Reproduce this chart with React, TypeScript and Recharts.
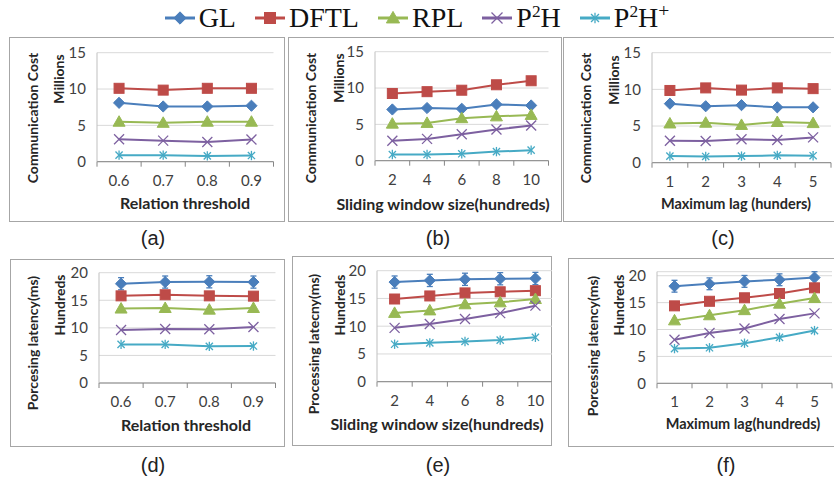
import React from 'react';
import { LineChart, Line, XAxis, YAxis, CartesianGrid, ErrorBar } from 'recharts';

const seriesNames = ['GL', 'DFTL', 'RPL', 'P2H', 'P2H+'];
const seriesColors = ['#4a7ebb', '#be4b48', '#98b954', '#7d60a0', '#46aac5'];
const seriesMarkers = ['diamond', 'square', 'triangle', 'cross', 'star'];

const thresholds = ['0.6', '0.7', '0.8', '0.9'];
const windowSizes = ['2', '4', '6', '8', '10'];
const maxLags = ['1', '2', '3', '4', '5'];

const costTicks = [0, 5, 10, 15];
const latencyTicks = [0, 5, 10, 15, 20];

// (a) communication cost vs relation threshold (millions)
const costThrGL = [8.1, 7.6, 7.6, 7.7];
const costThrDFTL = [10.1, 9.85, 10.1, 10.1];
const costThrRPL = [5.5, 5.35, 5.5, 5.5];
const costThrP2H = [3.1, 2.9, 2.7, 3.05];
const costThrP2Hp = [0.9, 0.9, 0.8, 0.85];

// (b) communication cost vs sliding window size
const costWinGL = [7.05, 7.25, 7.15, 7.75, 7.6];
const costWinDFTL = [9.25, 9.5, 9.7, 10.45, 11.0];
const costWinRPL = [5.1, 5.2, 5.85, 6.1, 6.3];
const costWinP2H = [2.75, 3.0, 3.65, 4.3, 4.85];
const costWinP2Hp = [0.85, 0.85, 0.95, 1.25, 1.45];

// (c) communication cost vs maximum lag
const costLagGL = [8.05, 7.7, 7.85, 7.55, 7.55];
const costLagDFTL = [9.85, 10.2, 9.9, 10.2, 10.1];
const costLagRPL = [5.35, 5.45, 5.15, 5.55, 5.4];
const costLagP2H = [3.0, 2.95, 3.2, 3.1, 3.45];
const costLagP2Hp = [0.9, 0.85, 0.9, 1.0, 0.95];

// (d) processing latency vs relation threshold (hundreds ms)
const latThrGL = [18.0, 18.3, 18.35, 18.3];
const latThrDFTL = [15.8, 16.0, 15.8, 15.75];
const latThrRPL = [13.5, 13.6, 13.3, 13.6];
const latThrP2H = [9.6, 9.8, 9.75, 10.15];
const latThrP2Hp = [7.0, 7.0, 6.65, 6.7];
const latThrGLErr = [1.1, 1.1, 1.1, 1.1];

// (e) processing latency vs sliding window size
const latWinGL = [17.95, 18.25, 18.45, 18.55, 18.6];
const latWinDFTL = [14.9, 15.45, 16.0, 16.2, 16.4];
const latWinRPL = [12.4, 12.85, 13.95, 14.3, 14.9];
const latWinP2H = [9.7, 10.4, 11.3, 12.35, 13.7];
const latWinP2Hp = [6.75, 7.0, 7.25, 7.5, 8.0];
const latWinGLErr = [1.1, 1.1, 1.1, 1.1, 1.1];

// (f) processing latency vs maximum lag
const latLagGL = [18.05, 18.5, 18.95, 19.25, 19.65];
const latLagDFTL = [14.4, 15.25, 15.9, 16.7, 17.75];
const latLagRPL = [11.7, 12.65, 13.6, 14.8, 15.85];
const latLagP2H = [8.1, 9.35, 10.2, 11.95, 13.0];
const latLagP2Hp = [6.45, 6.6, 7.45, 8.55, 9.8];
const latLagGLErr = [1.1, 1.1, 1.1, 1.1, 1.1];

const sans = 'Lato, "Open Sans", sans-serif';

function Marker({ kind, cx, cy, color, s = 1 }: any) {
  if (cx == null || cy == null) return null;
  if (kind === 'diamond') {
    const r = 5.6 * s;
    return <polygon points={`${cx},${cy - r} ${cx + r},${cy} ${cx},${cy + r} ${cx - r},${cy}`} fill={color} stroke={color} />;
  }
  if (kind === 'square') {
    const h = 5 * s;
    return <rect x={cx - h} y={cy - h} width={2 * h} height={2 * h} fill={color} stroke={color} />;
  }
  if (kind === 'triangle') {
    const r = 6 * s;
    return <polygon points={`${cx},${cy - r} ${cx + r},${cy + r * 0.75} ${cx - r},${cy + r * 0.75}`} fill={color} stroke={color} />;
  }
  if (kind === 'cross') {
    const r = 5 * s;
    return (
      <g stroke={color} strokeWidth={1.3}>
        <line x1={cx - r} y1={cy - r} x2={cx + r} y2={cy + r} />
        <line x1={cx - r} y1={cy + r} x2={cx + r} y2={cy - r} />
      </g>
    );
  }
  const r = 3.6 * s;
  return (
    <g stroke={color} strokeWidth={1.3}>
      <line x1={cx - r} y1={cy - r} x2={cx + r} y2={cy + r} />
      <line x1={cx - r} y1={cy + r} x2={cx + r} y2={cy - r} />
      <line x1={cx} y1={cy - r * 1.3} x2={cx} y2={cy + r * 1.3} />
    </g>
  );
}

const panels = [
  {
    tag: '(a)', tagPos: [153, 238], box: [9, 37, 285, 222], plot: [97, 52.7, 273.5, 161.7],
    cats: thresholds, series: [costThrGL, costThrDFTL, costThrRPL, costThrP2H, costThrP2Hp], err: null,
    ticks: costTicks, yTitle: 'Communication Cost', yTitlePos: [32, 118], unit: 'Millions', unitPos: [58, 79],
    xTitle: 'Relation threshold', xTitlePos: [185, 202], xTitleSize: 16,
  },
  {
    tag: '(b)', tagPos: [438, 238], box: [288, 37, 562, 222], plot: [375, 51.7, 548.5, 160.7],
    cats: windowSizes, series: [costWinGL, costWinDFTL, costWinRPL, costWinP2H, costWinP2Hp], err: null,
    ticks: costTicks, yTitle: 'Communication Cost', yTitlePos: [310, 118], unit: 'Millions', unitPos: [338, 78],
    xTitle: 'Sliding window size(hundreds)', xTitlePos: [443, 203], xTitleSize: 16,
  },
  {
    tag: '(c)', tagPos: [723, 238], box: [563, 37, 845, 222], plot: [652, 52.7, 831, 162.7],
    cats: maxLags, series: [costLagGL, costLagDFTL, costLagRPL, costLagP2H, costLagP2Hp], err: null,
    ticks: costTicks, yTitle: 'Communication Cost', yTitlePos: [585, 118], unit: 'Millions', unitPos: [613, 80],
    xTitle: 'Maximum lag (hunders)', xTitlePos: [736, 203], xTitleSize: 14.5,
  },
  {
    tag: '(d)', tagPos: [153, 465], box: [10, 259, 285, 447], plot: [99, 272.7, 275.5, 383],
    cats: thresholds, series: [latThrGL, latThrDFTL, latThrRPL, latThrP2H, latThrP2Hp], err: latThrGLErr,
    ticks: latencyTicks, yTitle: 'Porcesing latency(ms)', yTitlePos: [32, 343], unit: 'Hundreds', unitPos: [59, 305],
    xTitle: 'Relation threshold', xTitlePos: [186, 424], xTitleSize: 16,
  },
  {
    tag: '(e)', tagPos: [438, 465], box: [292, 256, 552, 446], plot: [377, 270.7, 553, 381.7],
    cats: windowSizes, series: [latWinGL, latWinDFTL, latWinRPL, latWinP2H, latWinP2Hp], err: latWinGLErr,
    ticks: latencyTicks, yTitle: 'Processing latecny(ms)', yTitlePos: [313, 344], unit: 'Hundreds', unitPos: [339, 305],
    xTitle: 'Sliding window size(hundreds)', xTitlePos: [437, 423], xTitleSize: 16,
  },
  {
    tag: '(f)', tagPos: [726, 465], box: [568, 258, 845, 447], plot: [657, 271.7, 832, 383.3],
    cats: maxLags, series: [latLagGL, latLagDFTL, latLagRPL, latLagP2H, latLagP2Hp], err: latLagGLErr,
    ticks: latencyTicks, yTitle: 'Porcessing latency(ms)', yTitlePos: [592, 346], unit: 'Hundreds', unitPos: [618, 305],
    xTitle: 'Maximum lag(hundreds)', xTitlePos: [743, 423], xTitleSize: 14.5,
  },
];

function Panel({ p }: any) {
  const [bl, bt, br, bb] = p.box;
  const [pl, pt, pr, pb] = p.plot;
  const n = p.cats.length;
  const band = (pr - pl) / n;
  const data = p.cats.map((c: string, i: number) => {
    const row: any = { x: i + 1, cat: c };
    seriesNames.forEach((s, k) => (row[s] = p.series[k][i]));
    if (p.err) row.err = p.err[i];
    return row;
  });
  const xTicks = Array.from({ length: n + 1 }, (_, i) => i + 0.5);
  const yMax = p.ticks[p.ticks.length - 1];

  const xTick = (t: any) => {
    const i = Math.round(t.payload.value - 0.5);
    return (
      <g key={`xt-${t.index}`}>
        <line x1={t.x} y1={t.y} x2={t.x} y2={t.y + 5} stroke="#868686" />
        {i < n && (
          <text x={t.x + band / 2} y={t.y + 18} textAnchor="middle" dominantBaseline="central"
            fontFamily={sans} fontSize={15} fill="#404040">{p.cats[i]}</text>
        )}
      </g>
    );
  };

  return (
    <>
      <div style={{ position: 'absolute', left: bl, top: bt, width: br - bl, height: bb - bt, border: '1px solid #a6a6a6', boxSizing: 'border-box' }} />
      <div style={{ position: 'absolute', left: bl, top: bt }}>
        <LineChart width={br - bl} height={bb - bt} data={data}
          margin={{ top: pt - bt, right: br - pr, bottom: 0, left: 0 }}>
          <CartesianGrid vertical={false} stroke="#d9d9d9" />
          <XAxis dataKey="x" type="number" domain={[0.5, n + 0.5]} ticks={xTicks} interval={0}
            height={bb - pb} tickLine={false} tickSize={0} tickMargin={0} tick={xTick}
            axisLine={{ stroke: '#868686' }} />
          <YAxis type="number" domain={[0, yMax]} ticks={p.ticks} interval={0} width={pl - bl}
            tickLine={false} tickSize={0} tickMargin={11} axisLine={{ stroke: '#bfbfbf' }}
            tick={{ fontFamily: sans, fontSize: 15, fill: '#404040' }} />
          {seriesNames.map((name, k) => (
            <Line key={name} type="linear" dataKey={name} stroke={seriesColors[k]} strokeWidth={2}
              isAnimationActive={false} activeDot={false}
              dot={(d: any) => <Marker key={`${name}-${d.index}`} kind={seriesMarkers[k]} cx={d.cx} cy={d.cy} color={seriesColors[k]} />}>
              {k === 0 && p.err && (
                <ErrorBar dataKey="err" direction="y" width={3} stroke={seriesColors[0]} strokeWidth={1.3} isAnimationActive={false} />
              )}
            </Line>
          ))}
        </LineChart>
      </div>
      <svg width={834} height={483} style={{ position: 'absolute', left: 0, top: 0, pointerEvents: 'none' }}>
        <text x={p.yTitlePos[0]} y={p.yTitlePos[1]} transform={`rotate(-90 ${p.yTitlePos[0]} ${p.yTitlePos[1]})`}
          textAnchor="middle" dominantBaseline="central" fontFamily={sans} fontWeight="bold" fontSize={14} fill="#262626">{p.yTitle}</text>
        <text x={p.unitPos[0]} y={p.unitPos[1]} transform={`rotate(-90 ${p.unitPos[0]} ${p.unitPos[1]})`}
          textAnchor="middle" dominantBaseline="central" fontFamily={sans} fontWeight="bold" fontSize={14} fill="#262626">{p.unit}</text>
        <text x={p.xTitlePos[0]} y={p.xTitlePos[1]} textAnchor="middle" dominantBaseline="central"
          fontFamily={sans} fontWeight="bold" fontSize={p.xTitleSize} fill="#262626">{p.xTitle}</text>
        <text x={p.tagPos[0]} y={p.tagPos[1]} textAnchor="middle" dominantBaseline="central"
          fontFamily='"Liberation Sans", Arial, sans-serif' fontSize={20} fill="#222">{p.tag}</text>
      </svg>
    </>
  );
}

function LegendLabel({ name }: { name: string }) {
  if (name.startsWith('P2H')) {
    return (
      <span>P<sup style={{ fontSize: '0.62em', verticalAlign: '0.55em', lineHeight: 0 }}>2</sup>H
        {name.endsWith('+') && <sup style={{ fontSize: '0.7em', verticalAlign: '0.5em', lineHeight: 0 }}>+</sup>}
      </span>
    );
  }
  return <span>{name}</span>;
}

function TopLegend() {
  return (
    <div style={{ position: 'absolute', left: 0, top: 0, width: 834, height: 36, display: 'flex', justifyContent: 'center', alignItems: 'center', gap: 19 }}>
      {seriesNames.map((name, k) => (
        <div key={name} style={{ display: 'flex', alignItems: 'center' }}>
          <svg width={30} height={20}>
            <line x1={0} y1={10} x2={30} y2={10} stroke={seriesColors[k]} strokeWidth={3} />
            <Marker kind={seriesMarkers[k]} cx={15} cy={10} color={seriesColors[k]} s={1.1} />
          </svg>
          <span style={{ marginLeft: 4, fontFamily: '"Liberation Serif", "Times New Roman", serif', fontSize: 28, lineHeight: '30px', color: '#111' }}>
            <LegendLabel name={name} />
          </span>
        </div>
      ))}
    </div>
  );
}

export default function App() {
  return (
    <div style={{ position: 'absolute', left: 0, top: 0, width: 834, height: 483, overflow: 'hidden', background: '#fff' }}>
      <TopLegend />
      {panels.map((p) => (
        <Panel key={p.tag} p={p} />
      ))}
    </div>
  );
}
